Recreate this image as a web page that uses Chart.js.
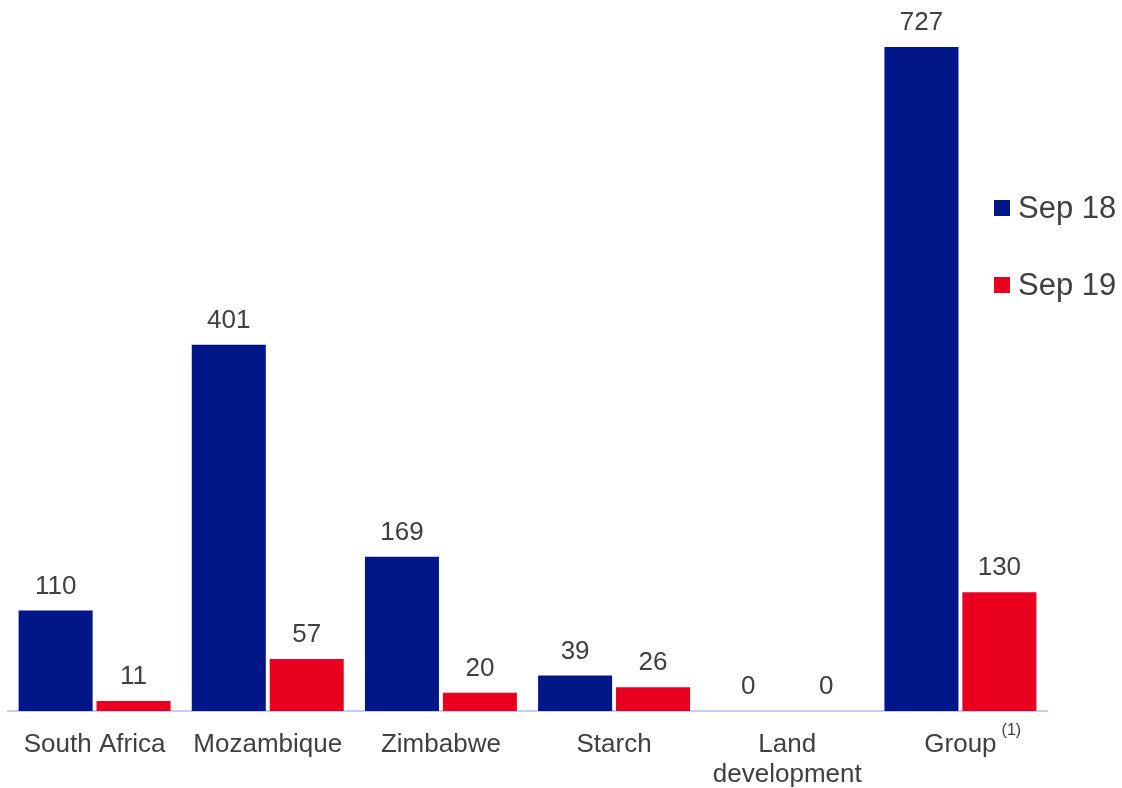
<!DOCTYPE html>
<html>
<head>
<meta charset="utf-8">
<script src="https://cdn.jsdelivr.net/npm/chart.js@4/dist/chart.umd.min.js"></script>
<style>
  html, body { margin: 0; padding: 0; background: #ffffff; }
  #wrap { width: 1122px; height: 788px; }
</style>
</head>
<body>
<div id="wrap"><canvas id="chart" width="1122" height="788"></canvas></div>
<script>
// Categories (segments) and values per period
const categories = [
  'South Africa',
  'Mozambique',
  'Zimbabwe',
  'Starch',
  ['Land', 'development'],
  'Group'
];
const seriesNames = ['Sep 18', 'Sep 19'];
const sep18 = [110, 401, 169, 39, 0, 727];
const sep19 = [11, 57, 20, 26, 0, 130];
const footnoteIndex = 5;
const footnoteText = '(1)';

const BLUE = '#001689';
const RED = '#E8001E';
const TEXT = '#404040';
const FONT = '"Liberation Sans", Arial, Helvetica, sans-serif';

// Value labels above each bar
const valueLabels = {
  id: 'valueLabels',
  afterDatasetsDraw(chart) {
    const ctx = chart.ctx;
    ctx.save();
    ctx.font = '26px ' + FONT;
    ctx.fillStyle = TEXT;
    ctx.textAlign = 'center';
    ctx.textBaseline = 'middle';
    chart.data.datasets.forEach((ds, di) => {
      const meta = chart.getDatasetMeta(di);
      meta.data.forEach((bar, i) => {
        ctx.fillText(String(ds.data[i]), bar.x, bar.y - 24);
      });
    });
    ctx.restore();
  }
};

// Legend drawn as a vertical list on the right, over the plot
const sideLegend = {
  id: 'sideLegend',
  afterDraw(chart) {
    const ctx = chart.ctx;
    const area = chart.chartArea;
    const x0 = area.right - 53;
    const rows = [208, 285];
    ctx.save();
    ctx.font = '31px ' + FONT;
    ctx.textBaseline = 'middle';
    ctx.textAlign = 'left';
    chart.data.datasets.forEach((ds, i) => {
      const yc = rows[i];
      ctx.fillStyle = ds.backgroundColor;
      ctx.fillRect(x0, yc - 8, 16, 16);
      ctx.fillStyle = TEXT;
      ctx.fillText(ds.label, x0 + 24, yc + 1);
    });
    ctx.restore();
  }
};

// Superscript footnote marker next to a category label
const footnote = {
  id: 'footnote',
  afterDraw(chart) {
    const ctx = chart.ctx;
    const xs = chart.scales.x;
    const x = xs.getPixelForValue(footnoteIndex);
    ctx.save();
    ctx.font = '26px ' + FONT;
    const w = ctx.measureText(categories[footnoteIndex]).width;
    ctx.font = '16px ' + FONT;
    ctx.fillStyle = TEXT;
    ctx.textAlign = 'left';
    ctx.textBaseline = 'middle';
    ctx.fillText(footnoteText, x + w / 2 + 5, chart.chartArea.bottom + 20);
    ctx.restore();
  }
};

new Chart(document.getElementById('chart'), {
  type: 'bar',
  data: {
    labels: categories,
    datasets: [
      { label: seriesNames[0], data: sep18, backgroundColor: BLUE },
      { label: seriesNames[1], data: sep19, backgroundColor: RED }
    ]
  },
  options: {
    responsive: false,
    animation: false,
    layout: { padding: { top: 47, left: 8, right: 75, bottom: 0 } },
    datasets: {
      bar: { categoryPercentage: 0.9, barPercentage: 0.95, borderWidth: 0 }
    },
    plugins: {
      legend: { display: false },
      tooltip: { enabled: false }
    },
    scales: {
      x: {
        grid: { display: false, drawTicks: false },
        border: { display: true, color: '#C5CCF5', width: 2 },
        afterFit(scale) { scale.height = 77; },
        ticks: {
          color: TEXT,
          padding: 19,
          maxRotation: 0,
          autoSkip: false,
          font: { family: FONT, size: 26, lineHeight: 1.15 }
        }
      },
      y: {
        display: false,
        min: 0,
        max: 727
      }
    }
  },
  plugins: [valueLabels, sideLegend, footnote]
});
</script>
</body>
</html>
